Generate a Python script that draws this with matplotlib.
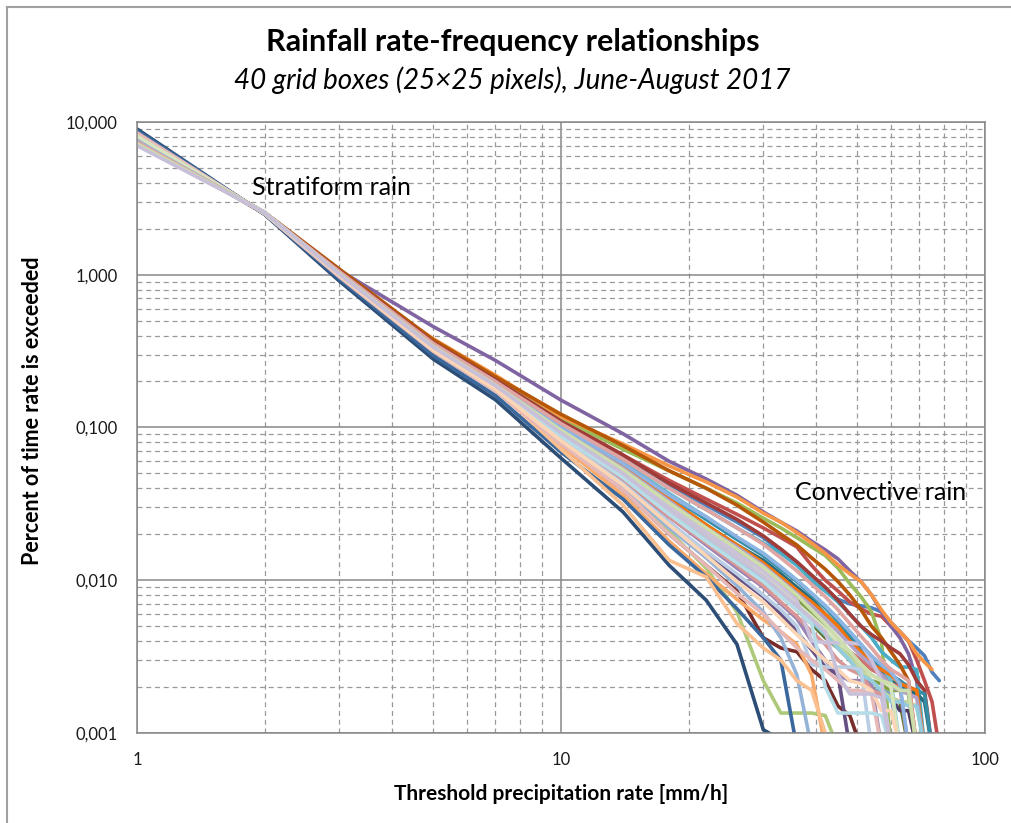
import matplotlib
matplotlib.use('Agg')
import matplotlib.pyplot as plt
from matplotlib.lines import Line2D
from matplotlib.ticker import FixedLocator, FixedFormatter, LogLocator, NullFormatter

plt.rcParams['font.family'] = ['Lato', 'DejaVu Sans']

# -------------------------------------------------------------------------
# threshold rates [mm/h] and percent of time exceeded, one list per grid box

thresholds = [1, 2, 3, 5, 7, 10, 14, 18, 22, 26, 30, 33, 36, 39, 42, 45, 48,
              51, 54, 57, 60, 63, 66, 69, 72, 75, 78]

box01 = [8.3, 2.52, 1.0, 0.35, 0.20, 0.105, 0.063, 0.042, 0.031, 0.024, 0.019, 0.0155, 0.013, 0.010, 0.0085, 0.0075, 0.0070, 0.0068, 0.0066, 0.0062, 0.0053, 0.0046, 0.0040, 0.0036, 0.0032, 0.0025, 0.0022]
box02 = [8.1, 2.53, 1.01, 0.36, 0.205, 0.112, 0.066, 0.045, 0.034, 0.027, 0.022, 0.019, 0.0165, 0.0125, 0.010, 0.0085, 0.0072, 0.0065, 0.0060, 0.0058, 0.0050, 0.0046, 0.0040, 0.0030, 0.0022, 0.0016, 0.0008]
box03 = [7.7, 2.55, 1.03, 0.37, 0.21, 0.115, 0.072, 0.052, 0.040, 0.032, 0.0255, 0.022, 0.019, 0.0165, 0.0145, 0.012, 0.0095, 0.0078, 0.0062, 0.0040, 0.0008]
box04 = [7.6, 2.5, 1.07, 0.457, 0.275, 0.151, 0.091, 0.060, 0.046, 0.036, 0.028, 0.024, 0.021, 0.018, 0.0158, 0.0138, 0.0115, 0.0098, 0.0080, 0.0062, 0.0050, 0.0042, 0.0033, 0.0022, 0.0008]
box05 = [8.0, 2.53, 1.02, 0.35, 0.20, 0.104, 0.062, 0.040, 0.029, 0.022, 0.0175, 0.015, 0.0125, 0.010, 0.0085, 0.0072, 0.0060, 0.0050, 0.0042, 0.0034, 0.0030, 0.0027, 0.0027, 0.0026, 0.0008]
box06 = [7.9, 2.5, 1.0, 0.38, 0.22, 0.118, 0.078, 0.056, 0.044, 0.035, 0.0275, 0.024, 0.0205, 0.0175, 0.015, 0.0126, 0.011, 0.0098, 0.008, 0.0064, 0.0053, 0.0046, 0.0040, 0.0033, 0.0029, 0.0026]
box07 = [9.0, 2.48, 0.91, 0.28, 0.152, 0.063, 0.028, 0.0125, 0.0074, 0.0038, 0.00105, 0.0009]
box08 = [8.5, 2.5, 0.97, 0.315, 0.175, 0.078, 0.039, 0.020, 0.0125, 0.0085, 0.0042, 0.0036, 0.0034, 0.0026, 0.0022, 0.0015, 0.0013, 0.0008]
box09 = [8.2, 2.52, 1.0, 0.33, 0.185, 0.089, 0.047, 0.027, 0.018, 0.013, 0.0098, 0.008, 0.0064, 0.0052, 0.0042, 0.0036, 0.003, 0.0024, 0.0020, 0.0017, 0.0017, 0.0016, 0.0008]
box10 = [8.1, 2.52, 1.01, 0.335, 0.188, 0.092, 0.050, 0.029, 0.019, 0.0135, 0.0105, 0.0085, 0.0068, 0.0055, 0.0046, 0.0038, 0.0033, 0.0028, 0.0019, 0.0018, 0.0017, 0.0014, 0.0014, 0.0008]
box11 = [7.9, 2.53, 1.03, 0.345, 0.195, 0.099, 0.055, 0.034, 0.023, 0.017, 0.0135, 0.011, 0.009, 0.0075, 0.006, 0.005, 0.0042, 0.0036, 0.003, 0.0025, 0.0022, 0.002, 0.0019, 0.0018, 0.0016, 0.0008]
box12 = [7.3, 2.56, 1.09, 0.375, 0.215, 0.122, 0.076, 0.052, 0.040, 0.031, 0.024, 0.020, 0.017, 0.014, 0.0118, 0.0098, 0.008, 0.0064, 0.005, 0.0042, 0.0034, 0.0028, 0.0022, 0.0008]
box13 = [8.0, 2.53, 1.02, 0.34, 0.19, 0.096, 0.052, 0.031, 0.021, 0.015, 0.0115, 0.009, 0.0072, 0.0058, 0.0047, 0.0036, 0.0030, 0.0024, 0.0019, 0.0019, 0.0018, 0.0008]
box14 = [8.1, 2.52, 1.0, 0.335, 0.187, 0.091, 0.049, 0.029, 0.019, 0.014, 0.0108, 0.0086, 0.007, 0.0058, 0.0048, 0.004, 0.0034, 0.003, 0.0026, 0.0024, 0.0021, 0.0020, 0.0008]
box15 = [8.4, 2.51, 0.98, 0.32, 0.178, 0.080, 0.040, 0.021, 0.012, 0.0062, 0.0022, 0.00135, 0.00135, 0.00135, 0.0013, 0.0008]
box16 = [8.2, 2.52, 0.99, 0.33, 0.183, 0.087, 0.046, 0.026, 0.017, 0.012, 0.009, 0.007, 0.0056, 0.004, 0.003, 0.0024, 0.0022, 0.0022, 0.0021, 0.0008]
box17 = [7.8, 2.54, 1.04, 0.35, 0.20, 0.103, 0.059, 0.037, 0.026, 0.019, 0.015, 0.0122, 0.010, 0.0082, 0.0068, 0.0056, 0.0046, 0.0038, 0.0031, 0.0027, 0.0022, 0.0008]
box18 = [7.4, 2.54, 0.99, 0.325, 0.175, 0.076, 0.036, 0.018, 0.011, 0.0075, 0.0055, 0.0046, 0.0038, 0.0024, 0.0008]
box19 = [8.8, 2.49, 0.94, 0.295, 0.162, 0.069, 0.034, 0.017, 0.0105, 0.0065, 0.0042, 0.003, 0.0008]
box20 = [7.6, 2.55, 1.06, 0.36, 0.205, 0.11, 0.066, 0.043, 0.032, 0.025, 0.0195, 0.016, 0.0132, 0.0108, 0.009, 0.0074, 0.006, 0.005, 0.0044, 0.004, 0.0036, 0.0033, 0.0028, 0.0022, 0.0019, 0.0008]
box21 = [7.9, 2.53, 1.02, 0.34, 0.19, 0.095, 0.051, 0.031, 0.021, 0.0155, 0.0118, 0.0094, 0.0076, 0.0062, 0.005, 0.004, 0.0032, 0.0025, 0.0022, 0.0021, 0.0019, 0.0019, 0.0018, 0.0008]
box22 = [8.3, 2.51, 0.99, 0.325, 0.18, 0.085, 0.044, 0.024, 0.015, 0.0105, 0.0078, 0.006, 0.0046, 0.0035, 0.0027, 0.0024, 0.0008]
box23 = [7.7, 2.54, 1.04, 0.35, 0.198, 0.101, 0.058, 0.036, 0.025, 0.0185, 0.0145, 0.0118, 0.0098, 0.008, 0.0066, 0.0054, 0.0044, 0.0036, 0.003, 0.0026, 0.0024, 0.0022, 0.002, 0.0019, 0.0018, 0.0008]
box24 = [7.9, 2.53, 1.03, 0.345, 0.195, 0.10, 0.055, 0.034, 0.023, 0.017, 0.013, 0.0105, 0.0086, 0.0072, 0.006, 0.005, 0.004, 0.0034, 0.0028, 0.0026, 0.0024, 0.0021, 0.0020, 0.0019, 0.0008]
box25 = [8.4, 2.51, 0.98, 0.32, 0.178, 0.081, 0.041, 0.022, 0.014, 0.0092, 0.0062, 0.0042, 0.0024, 0.0008]
box26 = [8.2, 2.52, 1.0, 0.33, 0.185, 0.088, 0.046, 0.026, 0.0175, 0.0125, 0.0092, 0.0072, 0.0058, 0.0046, 0.0038, 0.003, 0.0026, 0.0024, 0.0019, 0.0018, 0.0008]
box27 = [8.0, 2.53, 1.02, 0.34, 0.19, 0.094, 0.051, 0.030, 0.020, 0.0145, 0.011, 0.0088, 0.007, 0.0056, 0.0046, 0.0038, 0.0031, 0.0026, 0.0022, 0.0019, 0.0017, 0.0016, 0.0016, 0.0015, 0.0008]
box28 = [7.9, 2.53, 1.03, 0.345, 0.194, 0.098, 0.054, 0.033, 0.022, 0.0165, 0.0125, 0.01, 0.0082, 0.0068, 0.0056, 0.0046, 0.0038, 0.0032, 0.0028, 0.0024, 0.002, 0.0019, 0.0018, 0.0017, 0.0008]
box29 = [8.1, 2.52, 1.01, 0.335, 0.188, 0.091, 0.049, 0.028, 0.019, 0.0138, 0.0104, 0.0082, 0.0066, 0.0054, 0.0044, 0.0036, 0.003, 0.0024, 0.0022, 0.0019, 0.0016, 0.0016, 0.0015, 0.0015, 0.0008]
box30 = [7.3, 2.55, 1.0, 0.33, 0.18, 0.072, 0.031, 0.0135, 0.0105, 0.0052, 0.0036, 0.003, 0.0022, 0.0019, 0.001, 0.0008]
box31 = [8.3, 2.51, 0.99, 0.325, 0.18, 0.084, 0.043, 0.024, 0.0155, 0.011, 0.008, 0.0064, 0.005, 0.0028, 0.0027, 0.0027, 0.0027, 0.0026, 0.0008]
box32 = [8.5, 2.5, 0.97, 0.315, 0.174, 0.078, 0.039, 0.02, 0.0125, 0.0082, 0.006, 0.0046, 0.0036, 0.003, 0.0026, 0.0022, 0.0019, 0.0019, 0.0018, 0.0008]
box33 = [8.1, 2.52, 1.01, 0.335, 0.188, 0.092, 0.05, 0.029, 0.0195, 0.014, 0.0108, 0.0086, 0.007, 0.0058, 0.0048, 0.004, 0.0034, 0.0028, 0.0024, 0.0022, 0.002, 0.0008]
box34 = [7.2, 2.56, 1.02, 0.34, 0.19, 0.095, 0.052, 0.031, 0.021, 0.015, 0.0115, 0.0092, 0.0074, 0.004, 0.0039, 0.0039, 0.0039, 0.0038, 0.003, 0.0022, 0.0008]
box35 = [7.4, 2.55, 1.0, 0.33, 0.185, 0.088, 0.047, 0.027, 0.018, 0.013, 0.0098, 0.0078, 0.0064, 0.0052, 0.002, 0.00135, 0.00135, 0.00135, 0.00135, 0.0013, 0.0008]
box36 = [7.3, 2.55, 0.99, 0.32, 0.178, 0.082, 0.042, 0.023, 0.0145, 0.0098, 0.0072, 0.0056, 0.0044, 0.0036, 0.003, 0.0026, 0.0022, 0.0021, 0.0019, 0.0014, 0.0014, 0.0008]
box37 = [7.5, 2.54, 1.04, 0.35, 0.20, 0.102, 0.058, 0.036, 0.026, 0.0192, 0.015, 0.0122, 0.01, 0.0082, 0.0068, 0.0056, 0.0046, 0.0038, 0.0032, 0.0028, 0.0025, 0.0021, 0.0008]
box38 = [7.4, 2.55, 1.05, 0.355, 0.20, 0.106, 0.062, 0.040, 0.029, 0.022, 0.0172, 0.014, 0.0115, 0.0094, 0.0078, 0.0064, 0.0052, 0.0043, 0.0036, 0.003, 0.0026, 0.0024, 0.0022, 0.0008]
box39 = [7.2, 2.56, 1.02, 0.34, 0.19, 0.096, 0.053, 0.032, 0.022, 0.016, 0.0122, 0.0098, 0.008, 0.0064, 0.0052, 0.0042, 0.0034, 0.0028, 0.0024, 0.0022, 0.0021, 0.0019, 0.0019, 0.0008]
box40 = [7.0, 2.56, 1.01, 0.335, 0.188, 0.092, 0.05, 0.029, 0.0195, 0.014, 0.0106, 0.0084, 0.0068, 0.0056, 0.0046, 0.0024, 0.0018, 0.0018, 0.0018, 0.0017, 0.0008]

boxes = [box01, box02, box03, box04, box05, box06, box07, box08, box09, box10,
         box11, box12, box13, box14, box15, box16, box17, box18, box19, box20,
         box21, box22, box23, box24, box25, box26, box27, box28, box29, box30,
         box31, box32, box33, box34, box35, box36, box37, box38, box39, box40]

# excel style series colours
colors = ['#4F81BD', '#C0504D', '#9BBB59', '#8064A2', '#4BACC6', '#F79646',
          '#2C4D75', '#772C2A', '#5F7530', '#4D3B62', '#276A7C', '#B65708',
          '#729ACA', '#CD7371', '#AFC97A', '#9983B5', '#6FBDD1', '#F9AB6B',
          '#3A679C', '#9F3B38', '#7E9D40', '#664F83', '#358EA6', '#F3740B',
          '#95B3D7', '#D99694', '#C3D69B', '#B2A1C7', '#93CDDD', '#FAC090',
          '#B9CDE5', '#E6B9B8', '#D7E4BD', '#CCC1DA', '#B7DEE8', '#FCD5B5',
          '#8EB4E3', '#E0A4A2', '#CDDDAC', '#C8BFD9']

y_ticks = [0.001, 0.01, 0.1, 1, 10]
y_labels = ['0,001', '0,010', '0,100', '1,000', '10,000']
x_ticks = [1, 10, 100]
x_labels = ['1', '10', '100']

# -------------------------------------------------------------------------

fig = plt.figure(figsize=(10.11, 8.23), dpi=100)
ax = fig.add_axes([0.1355, 0.1094, 0.8388, 0.7424])

for y, c in zip(boxes, colors):
    ax.plot(thresholds[:len(y)], y, color=c, lw=2.6, solid_joinstyle='round',
            solid_capstyle='round')

ax.set_xscale('log')
ax.set_yscale('log')
ax.set_xlim(1, 100)
ax.set_ylim(0.001, 10)

ax.xaxis.set_major_locator(FixedLocator(x_ticks))
ax.xaxis.set_major_formatter(FixedFormatter(x_labels))
ax.yaxis.set_major_locator(FixedLocator(y_ticks))
ax.yaxis.set_major_formatter(FixedFormatter(y_labels))
ax.xaxis.set_minor_locator(LogLocator(base=10, subs=range(2, 10)))
ax.yaxis.set_minor_locator(LogLocator(base=10, subs=range(2, 10)))
ax.xaxis.set_minor_formatter(NullFormatter())
ax.yaxis.set_minor_formatter(NullFormatter())

ax.grid(which='major', color='#888888', lw=1.1, ls='-')
ax.grid(which='minor', color='#9a9a9a', lw=0.9, ls=(0, (4, 3)))
ax.set_axisbelow(True)
ax.tick_params(which='both', length=0)
ax.tick_params(axis='x', pad=14, labelsize=12, colors='#1a1a1a')
ax.tick_params(axis='y', pad=14, labelsize=12, colors='#1a1a1a')
for s in ax.spines.values():
    s.set_color('#888888')
    s.set_linewidth(1.1)

ax.set_xlabel('Threshold precipitation rate [mm/h]', fontsize=15,
              fontweight='bold')
ax.set_ylabel('Percent of time rate is exceeded', fontsize=15.5,
              fontweight='bold')
ax.xaxis.set_label_coords(0.5, -0.083)
ax.yaxis.set_label_coords(-0.111, 0.527)

ax.text(0.1356, 0.892, 'Stratiform rain', transform=ax.transAxes,
        fontsize=18, va='center', ha='left')
ax.text(0.776, 0.393, 'Convective rain', transform=ax.transAxes,
        fontsize=18, va='center', ha='left')

fig.text(0.507, 0.949, 'Rainfall rate-frequency relationships', fontsize=22,
         fontweight='bold', ha='center', va='center')
fig.text(0.507, 0.903, '40 grid boxes (25\u00d725 pixels), June-August 2017',
         fontsize=20, style='italic', ha='center', va='center')

# chart frame (top and left edges visible)
fig.add_artist(Line2D([0.007, 1.0], [0.9915, 0.9915], color='#a0a0a0', lw=1.5))
fig.add_artist(Line2D([0.007, 0.007], [0.0, 0.9915], color='#a0a0a0', lw=1.5))

plt.savefig('out.png', dpi=100)
